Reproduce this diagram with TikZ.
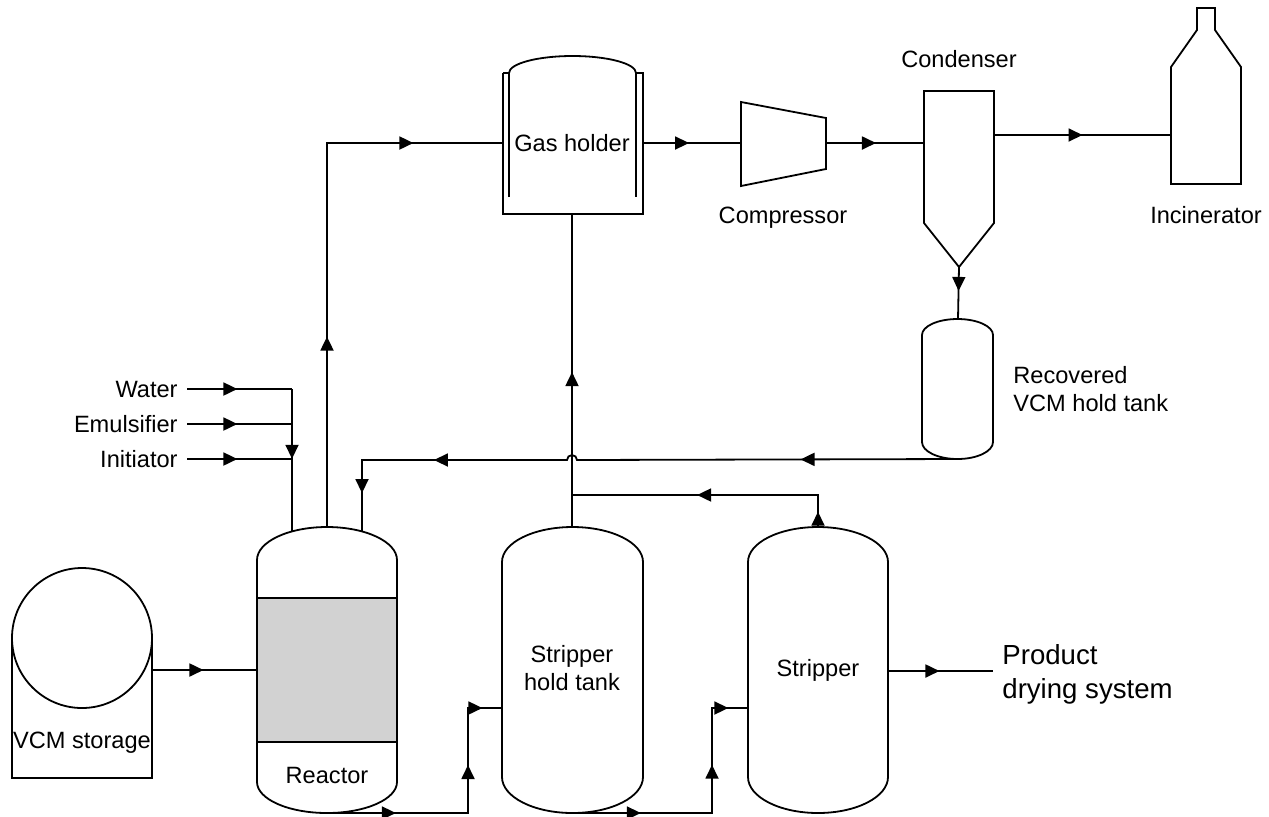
\documentclass[tikz,border=0pt]{standalone}
\usepackage{fontspec}
\setmainfont{Liberation Sans}
\usetikzlibrary{arrows.meta,decorations.markings,positioning}
\tikzset{
  pipe/.style={line width=0.9pt},
  unit/.style={line width=0.9pt},
  flowat/.style={postaction={decorate,decoration={markings,
      mark=at position #1 with {\arrow{Triangle[length=7pt,width=6.5pt]}}}}},
  lbl/.style={font=\fontsize{11.8}{14}\selectfont, inner sep=0pt, align=center},
  biglbl/.style={font=\fontsize{13.8}{17}\selectfont, inner sep=0pt, align=left},
}
\begin{document}
\begin{tikzpicture}[x=0.5pt,y=0.5pt]
   \useasboundingbox (0,0) rectangle (1269,-816);
   % vessels
   \draw[unit] (12,-638) -- (12,-778) -- (152,-778) -- (152,-638);
   \draw[unit,fill=white] (82,-638) circle[radius=70];
   \fill[gray!35] (257,-598) rectangle (397,-742);
   \draw[unit] (257,-598) -- (397,-598) (257,-742) -- (397,-742);
   \draw[unit] (257,-560) -- (257,-782) arc[start angle=180,end angle=360,x radius=70,y radius=31]
      -- (397,-560) arc[start angle=0,end angle=180,x radius=70,y radius=33] -- cycle;
   \draw[unit] (502,-562) -- (502,-777) arc[start angle=180,end angle=360,x radius=70.5,y radius=36]
      -- (643,-562) arc[start angle=0,end angle=180,x radius=70.5,y radius=35] -- cycle;
   \draw[unit] (748,-562) -- (748,-777) arc[start angle=180,end angle=360,x radius=70,y radius=36]
      -- (888,-562) arc[start angle=0,end angle=180,x radius=70,y radius=35] -- cycle;
   \draw[unit] (922,-335) -- (922,-442) arc[start angle=180,end angle=360,x radius=35.5,y radius=17]
      -- (993,-335) arc[start angle=0,end angle=180,x radius=35.5,y radius=16] -- cycle;
   \draw[unit] (503,-73) -- (503,-214) -- (643,-214) -- (643,-73) -- (636,-73) -- (636,-197);
   \draw[unit] (509,-197) -- (509,-73) -- (503,-73);
   \draw[unit] (509,-73) arc[start angle=180,end angle=0,x radius=63.5,y radius=17];
   \draw[unit] (741,-102) -- (826,-118) -- (826,-169) -- (741,-186) -- cycle;
   \draw[unit] (924,-91) -- (994,-91) -- (994,-223) -- (959,-267) -- (924,-223) -- cycle;
   \draw[unit] (1171,-184) -- (1171,-67) -- (1197,-30) -- (1197,-8) -- (1215,-8) -- (1215,-30)
      -- (1241,-67) -- (1241,-184) -- cycle;
   % labels
   \node[lbl] (vcm) at (82,-743) {VCM storage};
   \node[lbl] (reactor) at (327,-775) {Reactor};
   \node[lbl] (holdtank) at (572,-668) {Stripper\\hold tank};
   \node[lbl] (stripper) at (818,-670) {Stripper};
   \node[lbl] (gasholder) at (572,-143) {Gas holder};
   \node[lbl] (condenser) at (959,-59) {Condenser};
   \node[lbl] (compressor) at (783,-218) {Compressor};
   \node[lbl] (incinerator) at (1206,-215) {Incinerator};
   \node[lbl, align=left, anchor=west] (recovered) at (1013,-389) {Recovered\\VCM hold tank};
   \node[biglbl, anchor=west] (product) at (1002,-674) {Product\\drying system};
   \node[lbl, anchor=east] (water) at (178,-389) {Water};
   \node[lbl, anchor=east] (emulsifier) at (178,-424) {Emulsifier};
   \node[lbl, anchor=east] (initiator) at (178,-459) {Initiator};
   % ports
   \coordinate (feedW) at (187,-389);
   \coordinate (feedE) at (187,-424);
   \coordinate (feedI) at (187,-459);
   \coordinate (mixW) at (292,-389);
   \coordinate (mixE) at (292,-424);
   \coordinate (mixI) at (292,-459);
   \coordinate (rIn1) at (292,-531.4);
   \coordinate (rTop) at (327,-527);
   \coordinate (rIn2) at (362,-531.4);
   \coordinate (rSide) at (257,-670);
   \coordinate (sOut) at (152,-670);
   \coordinate (rBot) at (327,-813);
   \coordinate (ghIn) at (503,-143);
   \coordinate (ghOut) at (643,-143);
   \coordinate (ghBot) at (572,-214);
   \coordinate (cpIn) at (741,-143);
   \coordinate (cpOut) at (826,-143);
   \coordinate (cdIn) at (924,-143);
   \coordinate (cdOut) at (994,-135);
   \coordinate (cdBot) at (959,-267);
   \coordinate (incIn) at (1171,-135);
   \coordinate (rvTop) at (958,-319);
   \coordinate (rvBot) at (958,-459);
   \coordinate (hop) at (577,-460);
   \coordinate (rcTurn) at (362,-460);
   \coordinate (htTop) at (572,-527);
   \coordinate (htBot) at (572,-813);
   \coordinate (htIn) at (502,-708);
   \coordinate (stTop) at (818,-527);
   \coordinate (stIn) at (748,-708);
   \coordinate (stOut) at (888,-671);
   \coordinate (prIn) at (993,-671);
   % pipes
   \draw[pipe, flowat=0.48] (feedW) -- (mixW);
   \draw[pipe, flowat=0.48] (feedE) -- (mixE);
   \draw[pipe, flowat=0.48] (feedI) -- (mixI);
   \draw[pipe, flowat=0.49] (mixW) -- (rIn1);
   \draw[pipe, flowat=0.49] (sOut) -- (rSide);
   \draw[pipe, flowat=0.34, flowat=0.84] (rTop) |- (ghIn);
   \draw[pipe, flowat=0.47] (ghOut) -- (cpIn);
   \draw[pipe, flowat=0.51] (cpOut) -- (cdIn);
   \draw[pipe, flowat=0.50] (cdOut) -- (incIn);
   \draw[pipe, flowat=0.46] (cdBot) -- (rvTop);
   \draw[pipe, flowat=0.234, flowat=0.787, flowat=0.943] (rvBot) -- (hop)
      arc[start angle=0,end angle=180,radius=5] -- (rcTurn) -- (rIn2);
   \draw[pipe, flowat=0.495] (htTop) -- (ghBot);
   \draw[pipe, flowat=0.055, flowat=0.55] (stTop) |- (572,-495);
   \draw[pipe, flowat=0.246, flowat=0.675, flowat=0.93] (rBot) -- (468,-813) |- (htIn);
   \draw[pipe, flowat=0.245, flowat=0.67, flowat=0.93] (htBot) -- (712,-813) |- (stIn);
   \draw[pipe, flowat=0.49] (stOut) -- (prIn);
\end{tikzpicture}
\end{document}
